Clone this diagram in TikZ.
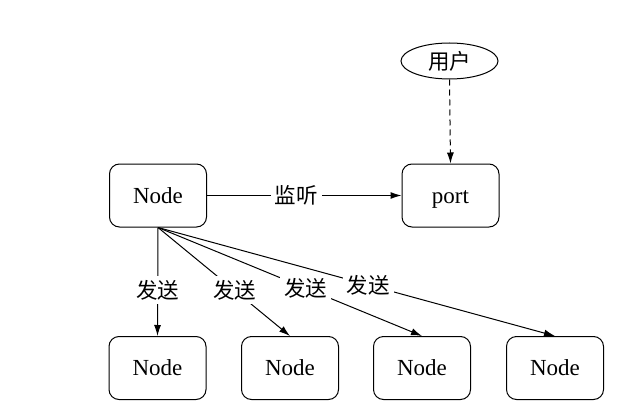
\documentclass[tikz,border=0pt]{standalone}
\usepackage{fontspec}
\setmainfont{Liberation Serif}
\newfontfamily\cjk{Noto Sans CJK SC}
\usetikzlibrary{arrows.meta,shapes.geometric}
\begin{document}
\begin{tikzpicture}[x=1pt,y=-1pt,
  box/.style={draw,line width=1.0pt,rounded corners=10pt,minimum width=97pt,minimum height=63pt,inner sep=0pt,text height=15pt,text depth=0pt,font=\fontsize{23}{26}\selectfont},
  lbl/.style={fill=white,inner sep=4pt,font=\cjk\fontsize{21.5}{24}\selectfont},
  arr/.style={line width=1.0pt,-{Latex[length=11pt,width=7pt]}}]
\useasboundingbox (0,0) rectangle (628,409);
\node[box] (top) at (158,195.5) {Node};
\node[box] (port) at (450.5,195.5) {port};
\node[draw,ellipse,line width=1.0pt,minimum width=97pt,minimum height=36pt,inner sep=0pt,font=\cjk\fontsize{21.5}{24}\selectfont] (user) at (449.5,61) {用户};
\node[box] (n1) at (157.5,368) {Node};
\node[box] (n2) at (290,368) {Node};
\node[box] (n3) at (422,368) {Node};
\node[box] (n4) at (555,368) {Node};
\draw[arr,dashed,dash pattern=on 6pt off 4pt] (user.south) -- (port.north);
\draw[arr] (top.east) -- node[lbl,pos=0.46]{监听} (port.west);
\coordinate (src) at (top.south);
\draw[arr] (src) -- node[lbl,pos=0.58]{发送} (n1.north);
\draw[arr] (src) -- node[lbl,pos=0.58]{发送} (n2.north);
\draw[arr] (src) -- node[lbl,pos=0.56]{发送} (n3.north);
\draw[arr] (src) -- node[lbl,pos=0.53]{发送} (n4.north);
\end{tikzpicture}
\end{document}
